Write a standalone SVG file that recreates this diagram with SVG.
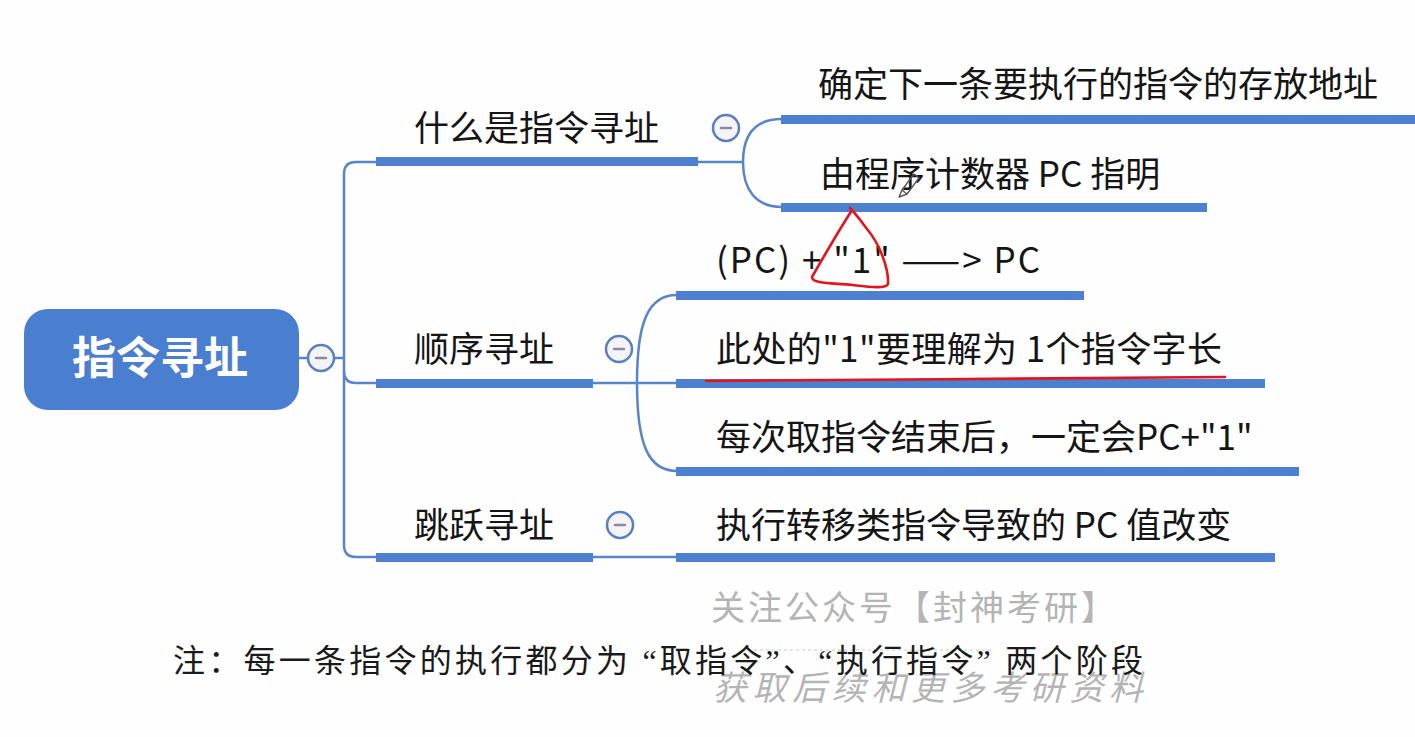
<svg xmlns="http://www.w3.org/2000/svg" width="1415" height="737" viewBox="0 0 1415 737">
<defs>
<style>
.t{font-family:"Noto Sans CJK SC","Liberation Sans",sans-serif;font-size:35px;fill:#151515}
.root{font-family:"Noto Sans CJK SC","Liberation Sans",sans-serif;font-size:44px;font-weight:bold;fill:#ffffff}
.note{font-family:"Liberation Serif","Noto Sans CJK SC",serif;font-size:32px;fill:#1a1a1a}
.wm{font-family:"Noto Sans CJK SC","Liberation Sans",sans-serif;font-size:34px;fill:#b4b4b4}
.bar{fill:#4d80cf}
.ln{fill:none;stroke:#5884cc;stroke-width:2.5}
.cc{fill:#f4f4f8;stroke:#5a7ec2;stroke-width:2.5}
.mn{stroke:#8a8a9a;stroke-width:2.5;stroke-linecap:round}
.red{fill:none;stroke:#e5141c;stroke-width:2.6;stroke-linecap:round;stroke-linejoin:round}
</style>
</defs>
<rect width="1415" height="737" fill="#fefefe"/>

<g id="connectors">
<path class="ln" d="M299,358 H308"/>
<path class="ln" d="M334,358 H344"/>
<path class="ln" d="M376,162 H356 Q344,162 344,174 V545 Q344,557 356,557 H376"/>
<path class="ln" d="M344,371 Q344,383 356,383 H376"/>
<path class="ln" d="M698,162 H743"/>
<path class="ln" d="M743,162 C743,134 756,119 782,119"/>
<path class="ln" d="M743,162 C743,190 756,207 782,207"/>
<path class="ln" d="M593,383 H676"/>
<path class="ln" d="M637,383 C637,322 648,295 677,295"/>
<path class="ln" d="M637,383 C637,444 648,471 677,471"/>
<path class="ln" d="M593,557 H676"/>
</g>

<g id="root">
<rect x="24" y="309" width="275" height="101" rx="24" fill="#4a7fcf"/>
<text class="root" x="160" y="374" text-anchor="middle">指令寻址</text>
<circle class="cc" cx="321" cy="358" r="13"/>
<line class="mn" x1="316" y1="358" x2="326" y2="358"/>
</g>

<g id="n-what">
<rect class="bar" x="376" y="157" width="322" height="9"/>
<text class="t" x="414" y="141">什么是指令寻址</text>
<circle class="cc" cx="726" cy="128" r="13"/>
<line class="mn" x1="721" y1="128" x2="731" y2="128"/>
</g>

<g id="n-what-1">
<rect class="bar" x="781" y="115" width="634" height="9"/>
<text class="t" x="818" y="97">确定下一条要执行的指令的存放地址</text>
</g>

<g id="n-what-2">
<rect class="bar" x="781" y="203" width="426" height="9"/>
<text class="t" x="820" y="187">由程序计数器 PC 指明</text>
</g>

<g id="n-seq">
<rect class="bar" x="376" y="379" width="217" height="9"/>
<text class="t" x="414" y="362">顺序寻址</text>
<circle class="cc" cx="619" cy="349" r="13"/>
<line class="mn" x1="614" y1="349" x2="624" y2="349"/>
</g>

<g id="n-seq-1">
<rect class="bar" x="676" y="291" width="408" height="9"/>
<text class="t" x="716" y="273" textLength="324" lengthAdjust="spacing">(PC) + "1" ——&gt; PC</text>
</g>

<g id="n-seq-2">
<rect class="bar" x="676" y="379" width="589" height="9"/>
<text class="t" x="716" y="362" textLength="506" lengthAdjust="spacing">此处的"1"要理解为 1个指令字长</text>
</g>

<g id="n-seq-3">
<rect class="bar" x="676" y="467" width="623" height="9"/>
<text class="t" x="716" y="450">每次取指令结束后，一定会PC+"1"</text>
</g>

<g id="n-jump">
<rect class="bar" x="376" y="553" width="217" height="9"/>
<text class="t" x="414" y="538">跳跃寻址</text>
<circle class="cc" cx="620" cy="525" r="13"/>
<line class="mn" x1="615" y1="525" x2="625" y2="525"/>
</g>

<g id="n-jump-1">
<rect class="bar" x="676" y="553" width="599" height="9"/>
<text class="t" x="716" y="538">执行转移类指令导致的 PC 值改变</text>
</g>

<g id="watermark">
<text class="wm" x="711" y="620" textLength="404" lengthAdjust="spacing">关注公众号【封神考研】</text>
<line x1="742" y1="650" x2="992" y2="650" stroke="#c8c8c8" stroke-width="1.2" stroke-dasharray="3,3"/>
<text class="wm" x="713" y="700" font-size="30" font-style="italic" fill="#a8a8a8" textLength="430" lengthAdjust="spacing">获取后续和更多考研资料</text>
</g>

<g id="note">
<text class="note" x="173" y="672" textLength="970" lengthAdjust="spacing">注：每一条指令的执行都分为 “取指令”、“执行指令” 两个阶段</text>
</g>

<g id="annotations">
<path class="red" d="M852,210 C838,232 824,256 812,277 C812,284 832,283 852,285 C870,287 886,289 888,284 C889,268 879,243 867,229 C861,221 856,214 850,208"/>
<path class="red" stroke-width="3.5" d="M706,381 C880,380 1050,378 1225,377"/>
<g fill="none" stroke="#555" stroke-width="1.4" stroke-linejoin="round">
<path d="M902,190 L914,174 L919,178 L907,194 Z"/>
<path d="M902,190 L899,197 L907,194"/>
</g>
</g>
</svg>
